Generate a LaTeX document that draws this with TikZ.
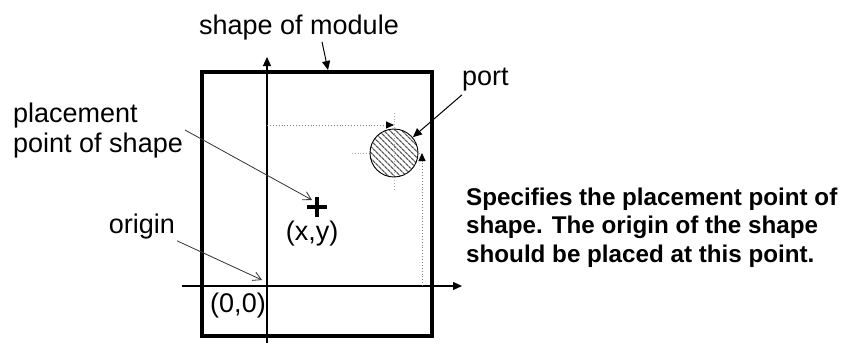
\documentclass[tikz,border=0pt]{standalone}
\usepackage{fontspec}
\setmainfont{Liberation Sans}
\usetikzlibrary{arrows.meta,patterns.meta}

\begin{document}
\begin{tikzpicture}[x=1pt,y=-1pt,>={Triangle[length=9pt,width=8pt]},
    lbl/.style={inner sep=2pt,font=\fontsize{27}{30}\selectfont,align=left},
    note/.style={inner sep=0pt,font=\fontsize{24.2}{28.5}\selectfont\bfseries,align=left},
    axis/.style={->,line width=1.2pt},
    guide/.style={-{Triangle[length=8pt,width=7pt,black]},dotted,gray,line width=0.9pt},
    tick/.style={dotted,gray!70,line width=0.8pt},
    callout/.style={-{Straight Barb[length=8pt,width=9pt]},line width=0.8pt,black!80}]
    \useasboundingbox (0,0) rectangle (843,343);
    \node[draw,line width=4pt,minimum width=230pt,minimum height=264pt,inner sep=0pt] (module) at (317,204) {};
    % axes of the module
    \coordinate (o) at (267,286);
    \coordinate (ybot) at (267,343);
    \coordinate (ytop) at (267,57);
    \coordinate (xl) at (182,286);
    \coordinate (xr) at (462,286);
    \draw[axis] (ybot) -- (ytop);
    \draw[axis] (xl) -- (xr);
    % port and its offsets
    \coordinate (gx) at (267,125);
    \coordinate (gy) at (422,286);
    \coordinate (pc) at (394,153);
    \draw[tick] ([shift={(-42,0)}]pc) -- ([shift={(28,0)}]pc);
    \node[circle,draw,line width=0.9pt,minimum size=48pt,inner sep=0pt,preaction={fill=white},
      pattern={Lines[angle=-45,distance=4pt,line width=1.3pt]},pattern color=black!65] (port) at (pc) {};
    \draw[tick] ([shift={(0,-40)}]pc) -- ([shift={(0,37)}]pc);
    \draw[guide] (gx) -- (gx -| port.center);
    \draw[guide] (gy) -- (gy |- port.center);
    % placement point
    \coordinate (pp) at (317,207);
    \draw[line width=4pt] ([shift={(-10,0)}]pp) -- ([shift={(10,0)}]pp)
      ([shift={(0,-10)}]pp) -- ([shift={(0,10)}]pp);
    % labels
    \node[lbl,anchor=base] (title) at (299,34) {shape of module};
    \node[lbl,anchor=base west] (portlbl) at (460,85) {port};
    \node[lbl,anchor=base west] (place) at (11,152) {placement\\point of shape};
    \node[lbl,anchor=base east] (orig) at (177,233) {origin};
    \node[lbl,anchor=base] (xylbl) at (312,240) {(x,y)};
    \node[lbl,anchor=base] (zero) at (238,312) {(0,0)};
    \node[note,anchor=base west] (spec) at (466,262) {Specifies the placement point of\\shape. The origin of the shape\\should be placed at this point.};
    \draw[->,line width=1pt] ([shift={(23,0)}]title.south) -- ([shift={(11,0)}]module.north);
    \draw[->,line width=1pt] ([shift={(2,2)}]portlbl.south west) -- (port.40);
    \draw[callout] (place.east) -- ([shift={(-5,-7)}]pp);
    \draw[callout] (orig.south east) -- ([shift={(-5,-6)}]o);
\end{tikzpicture}
\end{document}
